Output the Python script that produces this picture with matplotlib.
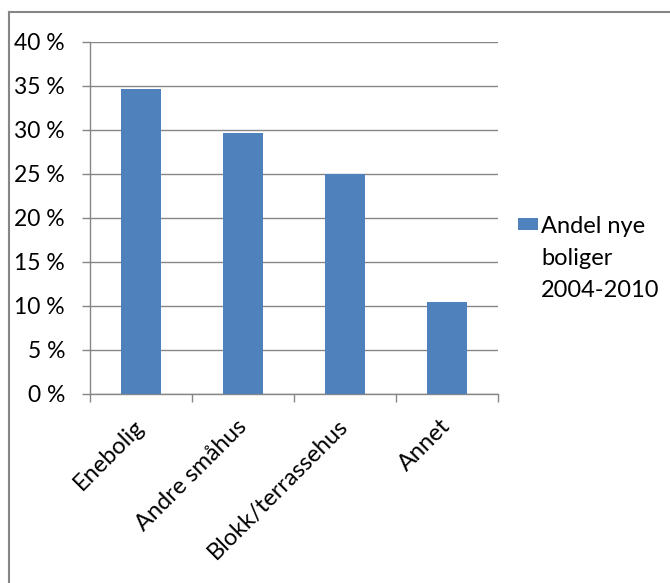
import numpy as np
import matplotlib.pyplot as plt
from matplotlib.lines import Line2D
from matplotlib.patches import Rectangle

plt.rcParams['font.family'] = ['Lato', 'DejaVu Sans']

categories = ['Enebolig', 'Andre småhus', 'Blokk/terrassehus', 'Annet']
andel = [34.7, 29.7, 25.0, 10.4]
series_name = 'Andel nye\nboliger\n2004-2010'
yticks = [0, 5, 10, 15, 20, 25, 30, 35, 40]

W, H = 670, 583
fig = plt.figure(figsize=(W / 100, H / 100), dpi=100)
ax = fig.add_axes([90 / W, 1 - 394 / H, 408 / W, 352 / H])

bar_color = '#4F81BD'
grid_color = '#868686'

x = np.arange(len(categories))
ax.bar(x, andel, width=0.4, color=bar_color, zorder=3)

ax.set_xlim(-0.5, len(categories) - 0.5)
ax.set_ylim(0, 40)
ax.set_yticks(yticks)
ax.set_yticklabels([f'{v} %' for v in yticks], fontsize=16.5)
ax.yaxis.grid(True, color=grid_color, linewidth=1, zorder=0)

# category labels sit under bars, tick marks sit between categories
ax.set_xticks(x)
ax.set_xticklabels(categories, rotation=45, ha='right', va='center',
                   rotation_mode='anchor', fontsize=17)
ax.tick_params(axis='x', length=0, pad=21)
ax.set_xticks(np.arange(len(categories) + 1) - 0.5, minor=True)
ax.tick_params(axis='x', which='minor', length=5.5, color=grid_color, width=1)
ax.tick_params(axis='y', length=6, color=grid_color, width=1, pad=12)

for s in ['top', 'right']:
    ax.spines[s].set_visible(False)
for s in ['left', 'bottom']:
    ax.spines[s].set_color(grid_color)
    ax.spines[s].set_linewidth(1)

# legend key and label (label placed by the baseline of its last line)
fig.add_artist(Rectangle((518 / W, 1 - 230 / H), 20 / W, 12 / H,
                         transform=fig.transFigure, facecolor=bar_color,
                         edgecolor='none'))
fig.text(541 / W, 1 - 297 / H, series_name, fontsize=17, va='baseline',
         ha='left', linespacing=1.65)

# chart-area border (top and left edges only)
fig.add_artist(Line2D([9 / W, 1], [1 - 12 / H, 1 - 12 / H],
                      transform=fig.transFigure, color='#868686', lw=1.5))
fig.add_artist(Line2D([9 / W, 9 / W], [1 - 12 / H, 0],
                      transform=fig.transFigure, color='#868686', lw=1.5))

fig.savefig('out.png', dpi=100)
